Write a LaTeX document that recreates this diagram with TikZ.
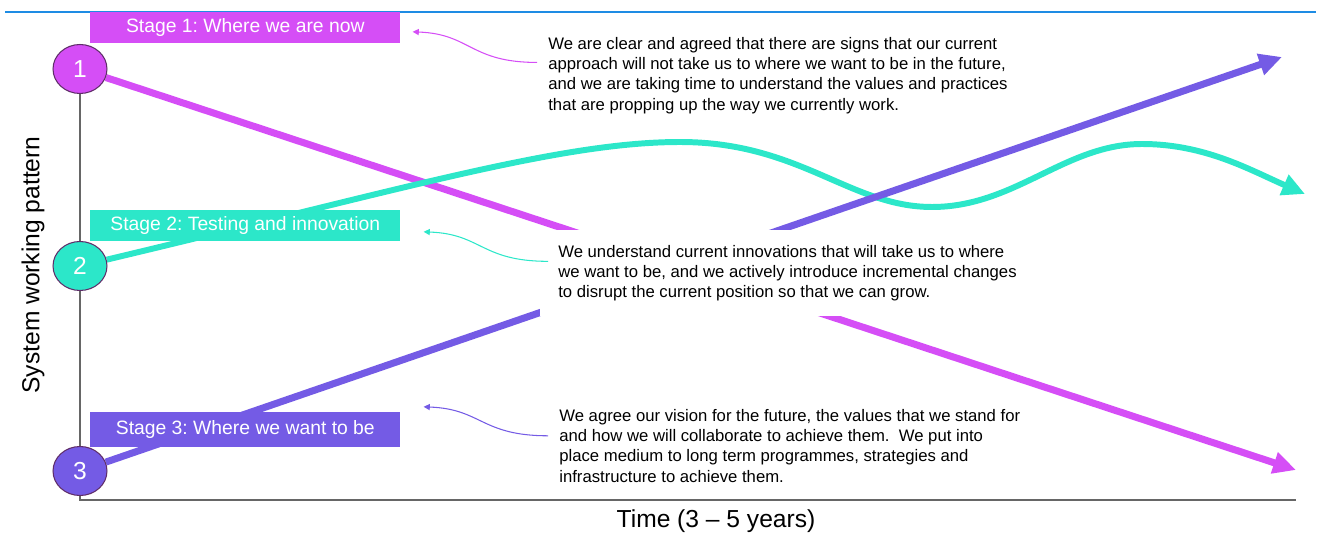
\documentclass[tikz,border=0pt]{standalone}
\usepackage{fontspec}
\setmainfont{Liberation Sans}
\usetikzlibrary{arrows.meta,shapes.geometric,calc,backgrounds}
\frenchspacing

\definecolor{stageA}{RGB}{213,78,246}
\definecolor{stageB}{RGB}{44,231,201}
\definecolor{stageC}{RGB}{116,91,229}
\definecolor{axisgrey}{RGB}{102,102,102}
\definecolor{rulerblue}{RGB}{30,140,228}
\definecolor{ringedge}{RGB}{95,45,105}

\tikzset{
  stagebox/.style={fill=#1, text=white, font=\fontsize{11}{13}\selectfont,
    minimum width=6.2cm, minimum height=0.62cm, inner sep=0pt, anchor=north west},
  ring/.style={ellipse, fill=#1, draw=ringedge, line width=0.6pt, minimum width=1.08cm,
    minimum height=0.98cm, inner sep=0pt, text=white, font=\fontsize{14}{16}\selectfont},
  trend/.style={#1, line width=4pt, -{Triangle[length=13pt,width=12pt]}},
  pointer/.style={#1, line width=0.6pt, -{Triangle[length=3.5pt,width=3.5pt]}},
  note/.style={font=\fontsize{9.5}{11.5}\selectfont, align=left, anchor=north west, inner sep=0pt},
  axislabel/.style={font=\fontsize{14}{16}\selectfont}
}

\begin{document}
\begin{tikzpicture}[x=0.02cm,y=-0.02cm]
\useasboundingbox (0,0) rectangle (1321,536);
\draw[rulerblue,line width=0.6pt] (5,12) -- (1316,12);

\node[ring=stageA] (one) at (80,69) {1};
\node[ring=stageB] (two) at (80,266) {2};
\node[ring=stageC] (three) at (80,471) {3};

\node[stagebox=stageA] (stage1) at (90,12) {Stage 1: Where we are now};
\node[stagebox=stageB] (stage2) at (90,210) {Stage 2: Testing and innovation};
\node[stagebox=stageC,minimum height=0.7cm] (stage3) at (90,412) {Stage 3: Where we want to be};

\node[note] (note1) at (548,37) {We are clear and agreed that there are signs that our current\\
  approach will not take us to where we want to be in the future,\\
  and we are taking time to understand the values and practices\\
  that are propping up the way we currently work.};
\node[note,fill=white,inner xsep=0.36cm,inner ysep=0.3cm] (note2) at (540,230)
  {We understand current innovations that will take us to where\\
  we want to be, and we actively introduce incremental changes\\
  to disrupt the current position so that we can grow.};
\node[note] (note3) at (559,409) {We agree our vision for the future, the values that we stand for\\
  and how we will collaborate to achieve them.\ \ We put into\\
  place medium to long term programmes, strategies and\\
  infrastructure to achieve them.};

\node[axislabel] (xlab) at (716,521) {Time (3 – 5 years)};
\node[axislabel,rotate=90] (ylab) at (33,265) {System working pattern};

\coordinate (fall) at (1296,470);
\coordinate (rise) at (1282,57);
\coordinate (wave) at (1305,194);

% axes and trend lines sit under the boxes
\begin{scope}[on background layer]
\draw[axisgrey,line width=1.1pt] (one.center) -- (80,500) -- (1296,500);
\draw[trend=stageA] (one) -- (fall);
\draw[trend=stageB,line width=3.4pt] (two) .. controls (400,190) and (560,142) .. (680,142)
  .. controls (800,142) and (850,207) .. (932,207)
  .. controls (1015,207) and (1065,144) .. (1142,144)
  .. controls (1205,144) and (1250,170) .. (wave);
\draw[trend=stageC] (three) -- (rise);
\end{scope}

\draw[pointer=stageA] ($(note1.west)+(-11,-13)$) .. controls +(-67,0) and +(58,2) .. ($(stage1.east)+(12,4)$);
\draw[pointer=stageB] ($(note2.west)+(8,-12)$) .. controls +(-67,0) and +(58,2) .. ($(stage2.east)+(23,6)$);
\draw[pointer=stageC] ($(note3.west)+(-11,-10)$) .. controls +(-67,0) and +(58,2) .. ($(stage3.east)+(23,-23)$);
\end{tikzpicture}
\end{document}
